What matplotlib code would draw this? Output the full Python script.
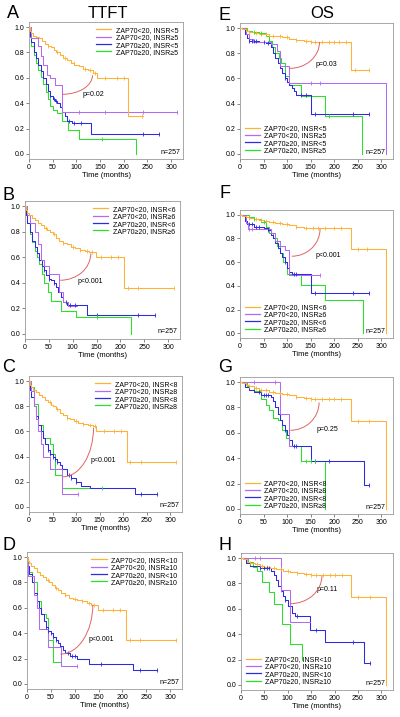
import numpy as np
import matplotlib
matplotlib.use("Agg")
import matplotlib.pyplot as plt
from matplotlib.patches import Arc
from matplotlib.lines import Line2D

plt.rcParams['font.family'] = ['Liberation Sans', 'DejaVu Sans']

# ---------------- data ----------------
xticks = [0, 50, 100, 150, 200, 250, 300]
yticks = [0.0, 0.2, 0.4, 0.6, 0.8, 1.0]
n_text = "n=257"
cutoffs = {"A": 5, "B": 6, "C": 8, "D": 10, "E": 5, "F": 6, "G": 8, "H": 10}
pvals = {"A": "p=0.02", "B": "p<0.001", "C": "p<0.001", "D": "p<0.001",
         "E": "p=0.03", "F": "p<0.001", "G": "p=0.25", "H": "p=0.11"}

# Panel A (TTFT, INSR 5)
A_or_t = [0, 2, 5, 9, 15, 22, 28, 34, 40, 46, 52, 58, 65, 72, 80, 88, 96, 105, 115, 125, 135, 143, 208, 240]
A_or_s = [1.0, .97, .95, .93, .92, .91, .89, .87, .85, .84, .82, .80, .78, .76, .74, .72, .70, .69, .67, .66, .64, .60, .30, .30]
A_or_c = [40, 60, 75, 95, 118, 128, 140, 160, 185, 200, 238]
A_pu_t = [0, 5, 18, 25, 30, 38, 45, 55, 70, 313]
A_pu_s = [1.0, .91, .85, .77, .70, .62, .60, .54, .33, .33]
A_pu_c = [105, 160, 240, 313]
A_bl_t = [0, 2, 5, 10, 15, 20, 25, 30, 35, 40, 45, 50, 55, 60, 65, 70, 75, 80, 90, 130, 275]
A_bl_s = [1.0, .93, .88, .80, .76, .70, .65, .60, .55, .50, .46, .43, .42, .40, .37, .33, .30, .26, .24, .16, .16]
A_bl_c = [45, 52, 58, 85, 95, 110, 240, 275]
A_gr_t = [0, 2, 5, 10, 15, 20, 25, 30, 35, 40, 45, 50, 60, 70, 83, 105, 225]
A_gr_s = [1.0, .92, .85, .78, .72, .66, .61, .55, .49, .43, .38, .35, .32, .26, .19, .12, 0.0]
A_gr_c = [155]

# Panel E (OS, INSR 5)
E_or_t = [0, 5, 12, 20, 30, 40, 50, 62, 75, 90, 105, 120, 135, 150, 235, 275]
E_or_s = [1.0, .99, .98, .97, .96, .955, .95, .94, .935, .925, .915, .905, .895, .89, .665, .665]
E_or_c = [20, 35, 45, 55, 70, 85, 100, 120, 140, 150, 160, 175, 190, 200, 210, 225, 245, 275]
E_pu_t = [0, 12, 20, 28, 66, 78, 85, 105, 310]
E_pu_s = [1.0, .95, .91, .89, .87, .82, .70, .56, 0.0]
E_pu_c = [150, 170]
E_bl_t = [0, 10, 15, 20, 40, 55, 65, 70, 75, 80, 85, 90, 95, 100, 105, 110, 115, 120, 150, 275]
E_bl_s = [1.0, .95, .92, .90, .89, .88, .85, .80, .76, .72, .68, .64, .60, .57, .55, .52, .50, .47, .32, .32]
E_bl_c = [20, 25, 30, 35, 50, 60, 95, 130, 140, 160, 240, 275]
E_gr_t = [0, 15, 25, 40, 55, 62, 68, 75, 82, 88, 95, 105, 130, 180, 260]
E_gr_s = [1.0, .98, .97, .96, .94, .90, .85, .80, .76, .72, .62, .55, .46, .30, 0.0]
E_gr_c = [30, 45, 190]

# Panel B (TTFT, INSR 6)
B_or_t = [0, 2, 5, 9, 15, 22, 28, 34, 40, 46, 52, 58, 65, 72, 80, 88, 96, 105, 115, 125, 135, 148, 208, 313]
B_or_s = [1.0, .97, .95, .93, .91, .89, .87, .85, .83, .81, .80, .78, .75, .73, .71, .70, .68, .67, .66, .65, .64, .60, .36, .36]
B_or_c = [45, 60, 80, 100, 115, 130, 140, 160, 180, 195, 215, 237, 313]
B_pu_t = [0, 5, 10, 20, 28, 33, 40, 50, 72, 80, 90, 110]
B_pu_s = [1.0, .93, .87, .80, .70, .58, .53, .47, .33, .25, .22, .22]
B_pu_c = []
B_bl_t = [0, 2, 5, 10, 15, 20, 25, 30, 35, 40, 45, 50, 55, 60, 65, 70, 75, 80, 88, 130, 272]
B_bl_s = [1.0, .93, .87, .80, .73, .68, .63, .58, .53, .50, .46, .43, .42, .40, .37, .33, .29, .25, .23, .15, .15]
B_bl_c = [40, 50, 60, 85, 95, 105, 150, 237, 272]
B_gr_t = [0, 2, 5, 10, 15, 20, 25, 30, 35, 40, 48, 55, 75, 107, 222]
B_gr_s = [1.0, .93, .87, .78, .72, .65, .60, .55, .47, .40, .33, .26, .18, .13, 0.0]
B_gr_c = [150]

# Panel F (OS, INSR 6)
F_or_t = [0, 5, 12, 20, 30, 40, 50, 62, 75, 90, 105, 120, 135, 150, 235, 310]
F_or_s = [1.0, .99, .98, .97, .96, .955, .95, .94, .93, .925, .915, .90, .89, .885, .71, 0.0]
F_or_c = [20, 35, 45, 55, 70, 85, 100, 120, 140, 155, 165, 180, 200, 215, 250, 270]
F_pu_t = [0, 12, 18, 65, 75, 85, 95, 105, 170]
F_pu_s = [1.0, .93, .88, .85, .78, .74, .70, .49, .49]
F_pu_c = [20, 25, 170]
F_bl_t = [0, 10, 15, 30, 50, 60, 65, 70, 75, 80, 85, 90, 95, 100, 105, 110, 150, 275]
F_bl_s = [1.0, .95, .92, .90, .89, .87, .83, .80, .76, .72, .68, .64, .60, .55, .52, .50, .34, .34]
F_bl_c = [20, 25, 35, 40, 60, 95, 115, 120, 160, 240, 275]
F_gr_t = [0, 20, 30, 45, 55, 62, 70, 78, 85, 92, 100, 130, 180, 262]
F_gr_s = [1.0, .98, .96, .94, .90, .85, .80, .74, .68, .60, .50, .41, .28, 0.0]
F_gr_c = [30, 50]

# Panel C (TTFT, INSR 8)
C_or_t = [0, 2, 5, 9, 15, 22, 28, 34, 40, 46, 52, 58, 65, 72, 80, 88, 96, 105, 115, 125, 135, 143, 208, 313]
C_or_s = [1.0, .97, .95, .93, .91, .89, .87, .85, .83, .81, .80, .78, .75, .73, .71, .70, .68, .67, .66, .65, .64, .60, .36, .36]
C_or_c = [45, 60, 80, 100, 115, 130, 140, 160, 180, 195, 215, 237, 313]
C_pu_t = [0, 5, 10, 15, 20, 25, 30, 45, 70, 105]
C_pu_s = [1.0, .92, .80, .70, .60, .50, .40, .30, .10, .10]
C_pu_c = [105]
C_bl_t = [0, 2, 5, 10, 15, 20, 25, 30, 35, 40, 45, 50, 55, 60, 65, 70, 80, 90, 100, 110, 130, 225, 272]
C_bl_s = [1.0, .93, .87, .80, .72, .65, .60, .55, .50, .45, .42, .40, .38, .36, .33, .30, .25, .23, .20, .17, .15, .10, .10]
C_bl_c = [40, 45, 50, 55, 60, 85, 90, 100, 238, 272]
C_gr_t = [0, 3, 10, 20, 30, 45, 50, 55, 70, 155]
C_gr_s = [1.0, .95, .82, .65, .55, .50, .42, .25, .15, .15]
C_gr_c = [155]

# Panel G (OS, INSR 8)
G_or_t = [0, 5, 12, 20, 30, 40, 50, 62, 75, 90, 105, 120, 135, 150, 235, 310]
G_or_s = [1.0, .99, .98, .97, .95, .94, .935, .925, .915, .905, .895, .885, .875, .87, .69, 0.0]
G_or_c = [20, 35, 45, 55, 70, 85, 100, 120, 140, 150, 160, 175, 190, 200, 215, 250, 275]
G_pu_t = [0, 85, 105, 110]
G_pu_s = [1.0, .75, .50, .50]
G_pu_c = [30, 75]
G_bl_t = [0, 10, 20, 30, 45, 65, 70, 75, 80, 85, 90, 95, 100, 105, 110, 150, 263, 275]
G_bl_s = [1.0, .96, .94, .92, .90, .88, .85, .80, .75, .70, .66, .62, .58, .54, .50, .38, .19, .19]
G_bl_c = [40, 50, 55, 60, 95, 115, 120, 160, 190, 275]
G_gr_t = [0, 15, 30, 45, 55, 62, 70, 80, 90, 98, 105, 130, 180]
G_gr_s = [1.0, .97, .93, .87, .82, .78, .72, .70, .62, .56, .50, .38, 0.0]
G_gr_c = [140, 150, 160]

# Panel D (TTFT, INSR 10)
D_or_t = [0, 2, 5, 9, 15, 22, 28, 34, 40, 46, 52, 58, 65, 72, 80, 88, 96, 105, 115, 125, 135, 148, 208, 313]
D_or_s = [1.0, .97, .95, .93, .91, .88, .86, .84, .82, .80, .78, .76, .74, .72, .70, .68, .67, .66, .65, .64, .62, .58, .35, .35]
D_or_c = [45, 60, 80, 100, 115, 130, 140, 160, 180, 195, 215, 237, 313]
D_pu_t = [0, 3, 15, 20, 25, 45, 72, 105]
D_pu_s = [1.0, .85, .70, .60, .43, .29, .14, .14]
D_pu_c = [105]
D_bl_t = [0, 2, 5, 10, 15, 20, 25, 30, 35, 40, 45, 50, 55, 60, 65, 70, 75, 80, 90, 105, 130, 222, 272]
D_bl_s = [1.0, .93, .87, .80, .72, .65, .60, .55, .50, .45, .42, .40, .37, .35, .32, .30, .27, .24, .22, .20, .16, .11, .11]
D_bl_c = [40, 45, 50, 55, 60, 85, 95, 100, 155, 237, 272]
D_gr_t = [0, 3, 10, 20, 30, 40, 45, 55, 72]
D_gr_s = [1.0, .88, .80, .65, .55, .52, .35, .17, .17]
D_gr_c = []

# Panel H (OS, INSR 10)
H_or_t = [0, 5, 12, 20, 30, 40, 50, 62, 75, 90, 105, 120, 135, 150, 235, 310]
H_or_s = [1.0, .99, .97, .96, .95, .94, .93, .92, .91, .90, .89, .88, .875, .87, .69, 0.0]
H_or_c = [20, 35, 45, 55, 70, 85, 100, 120, 140, 150, 160, 175, 190, 200, 215, 250, 275]
H_pu_t = [0, 85, 105, 148]
H_pu_s = [1.0, .75, .50, .50]
H_pu_c = [30, 40, 85]
H_bl_t = [0, 10, 20, 40, 65, 70, 75, 80, 85, 90, 95, 100, 110, 115, 148, 180, 263, 275]
H_bl_s = [1.0, .96, .94, .92, .90, .87, .83, .78, .74, .70, .67, .62, .57, .54, .43, .34, .17, .17]
H_bl_c = [40, 50, 55, 60, 95, 120, 160, 240, 275]
H_gr_t = [0, 15, 25, 35, 45, 60, 70, 88, 105, 130]
H_gr_s = [1.0, .97, .93, .90, .81, .73, .64, .48, .32, .20]
H_gr_c = []

# ---------------- style / layout ----------------
COL = ["#FFB233", "#B469F2", "#2B2BE0", "#2BE02B"]
ARC_COL = "#E06464"
W, H = 400, 717

# axes boxes in pixels: left, right, top, bottom
boxes = {
    "A": (29, 183, 22, 159), "E": (240, 393, 23, 159),
    "B": (25, 180, 201, 339), "F": (240, 393, 210, 338),
    "C": (29, 182, 376, 512), "G": (240, 393, 377, 514),
    "D": (27, 182, 552, 689), "H": (241, 393, 553, 690),
}
# arcs: center x, center y, radius x, radius y ; p-text position
arcs = {
    "A": (70, .62, 64, .15, (112, .465)), "E": (106, .89, 63, .21, (160, .71)),
    "B": (74, .63, 64, .21, (110, .41)), "F": (110, .88, 60, .23, (160, .66)),
    "C": (72, .63, 65, .39, (130, .37)), "G": (107, .84, 61, .22, (163, .63)),
    "D": (70, .625, 68, .39, (129, .35)), "H": (105, .86, 68, .22, (162, .75)),
}
letter_pos = {"A": (13, 14), "E": (225, 15), "B": (9, 195), "F": (225, 193),
              "C": (9, 368), "G": (225, 368), "D": (9, 546), "H": (225, 546)}

fig = plt.figure(figsize=(W / 100, H / 100), dpi=100)

def step_value(t, s, x):
    i = np.searchsorted(t, x, side="right") - 1
    return np.asarray(s)[max(i, 0)]

for key in ["A", "B", "C", "D", "E", "F", "G", "H"]:
    l, r, tp, bt = boxes[key]
    ax = fig.add_axes([l / W, 1 - bt / H, (r - l) / W, (bt - tp) / H])
    g = globals()
    for j, nm in enumerate(["or", "pu", "bl", "gr"]):
        t = np.array(g[f"{key}_{nm}_t"], float)
        s = np.array(g[f"{key}_{nm}_s"], float)
        c = np.array(g[f"{key}_{nm}_c"], float)
        ax.step(t, s, where="post", color=COL[j], lw=0.75, zorder=3 + (3 - j) * 0.1)
        if len(c):
            cy = [step_value(t, s, x) for x in c]
            ax.plot(c, cy, ls="none", marker="|", ms=2.5, mew=0.6, color=COL[j], zorder=4)
    cx, cyy, rx, ry, ptxt = arcs[key]
    ax.add_patch(Arc((cx, cyy), 2 * rx, 2 * ry, theta1=270, theta2=360,
                     color=ARC_COL, lw=0.7, zorder=5))
    ax.text(ptxt[0], ptxt[1], pvals[key], fontsize=5, va="center", ha="left")
    nx = 319 if key in "ABCD" else 308
    ax.text(nx, 0.015, n_text, fontsize=5, ha="right", va="center")
    ax.set_xlim(0, 325)
    ax.set_ylim(-0.04, 1.04)
    ax.set_xticks(xticks)
    ax.set_yticks(yticks)
    ax.set_yticklabels([f"{v:.1f}" for v in yticks])
    ax.tick_params(labelsize=5, length=2, width=0.5, pad=1.5, color="#555555")
    for sp in ax.spines.values():
        sp.set_color("#9a9a9a")
        sp.set_linewidth(0.6)
    ax.set_xlabel("Time (months)", fontsize=5.5, labelpad=1)
    cut = cutoffs[key]
    labels = [f"ZAP70<20, INSR<{cut}", f"ZAP70<20, INSR\u2265{cut}",
              f"ZAP70\u226520, INSR<{cut}", f"ZAP70\u226520, INSR\u2265{cut}"]
    handles = [Line2D([], [], color=COL[j], lw=0.9) for j in range(4)]
    if key in "ABCD":
        loc, anchor = "upper right", (1.0, 1.0)
    else:
        loc, anchor = "lower left", (0.0, 0.0)
    ax.legend(handles, labels, loc=loc, bbox_to_anchor=anchor, fontsize=5,
              frameon=False, handlelength=2.2, handletextpad=0.6,
              labelspacing=0.05, borderaxespad=0.3)
    lx, ly = letter_pos[key]
    fig.text(lx / W, 1 - ly / H, key, fontsize=13, ha="center", va="center")

fig.text(108 / W, 1 - 13 / H, "TTFT", fontsize=12, ha="center", va="center")
fig.text(322 / W, 1 - 13 / H, "OS", fontsize=12, ha="center", va="center")

fig.savefig("out.png", dpi=100)
